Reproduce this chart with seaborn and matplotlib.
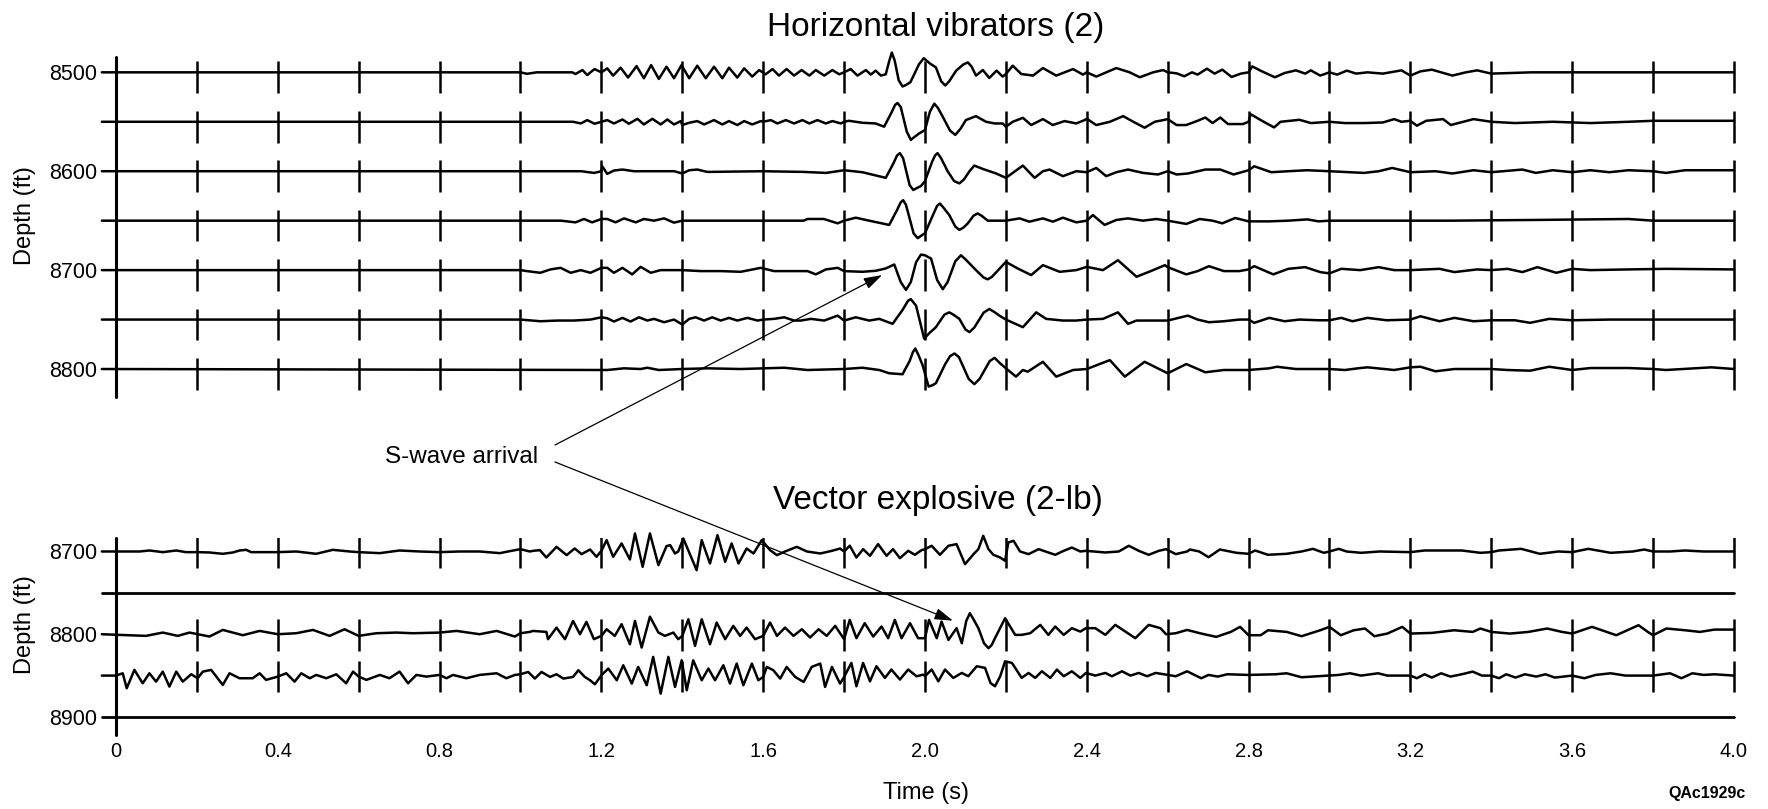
import numpy as np
import pandas as pd
import matplotlib
matplotlib.use("Agg")
import matplotlib.pyplot as plt
import seaborn as sns

# ---------------- data (time s, trace amplitude in ft, + = up) ----------------
hv_depths = [8500, 8550, 8600, 8650, 8700, 8750, 8800]
hv_ylabels = [8500, 8600, 8700, 8800]
vx_depths = [8700, 8800, 8850]
vx_plain = [8750, 8900]
vx_ylabels = [8700, 8800, 8900]
x_ticks = [0, 0.4, 0.8, 1.2, 1.6, 2.0, 2.4, 2.8, 3.2, 3.6, 4.0]
x_ticklabels = ["0", "0.4", "0.8", "1.2", "1.6", "2.0", "2.4", "2.8", "3.2", "3.6", "4.0"]
trace_marks = [0.2, 0.4, 0.6, 0.8, 1.0, 1.2, 1.4, 1.6, 1.8, 2.0,
               2.2, 2.4, 2.6, 2.8, 3.0, 3.2, 3.4, 3.6, 3.8, 4.0]

hv_8500 = [(-0.035,0),(1.0,0),(1.016,-1.5),(1.04,0),(1.128,0),(1.136,-1.7),(1.153,2.3),(1.165,-2.7),
    (1.183,3.3),(1.2,0),(1.2145,4),(1.229,-3.3),(1.2475,4.7),(1.266,-5.3),(1.287,6.3),(1.305,-6),
    (1.323,7.3),(1.342,-6.7),(1.361,5.7),(1.3795,-6),(1.398,7.3),(1.417,-6),(1.437,6.7),(1.458,-6),
    (1.4785,5.7),(1.499,-6),(1.5155,4.7),(1.536,-5.3),(1.553,4),(1.573,-4.3),(1.59,2.3),(1.606,-2),
    (1.623,3.3),(1.639,-3.3),(1.658,3.3),(1.6765,-3.3),(1.695,2.3),(1.714,-3.3),(1.73,2.3),(1.751,-3.3),
    (1.771,2.3),(1.788,-2),(1.8,0),(1.8165,3.3),(1.833,-3.3),(1.854,2.3),(1.866,-2.3),(1.878,1.7),
    (1.891,-3.3),(1.903,-2),(1.912,12),(1.918,20),(1.925,12),(1.935,-8),(1.9445,-14.3),(1.952,-13),
    (1.964,-10),(1.985,8),(1.997,14.3),(2.012,9),(2.027,5),(2.04,-9),(2.05,-13.3),(2.06,-9),
    (2.077,1.7),(2.095,8),(2.106,10),(2.115,6),(2.126,-3.3),(2.143,2.3),(2.159,-5.7),(2.177,1.7),
    (2.192,-4.3),(2.2,-1.7),(2.217,6.7),(2.238,-1.7),(2.267,-3.3),(2.2915,4.3),(2.3245,-3.3),(2.366,3.3),
    (2.3905,-2.3),(2.4,0),(2.4235,-4.3),(2.473,4.3),(2.506,0),(2.531,-5),(2.564,0),(2.589,2.3),(2.6,0),
    (2.622,-1),(2.641,-4),(2.66,0),(2.674,-2.3),(2.697,3.7),(2.716,-1.3),(2.735,2.7),(2.758,-4.7),
    (2.781,-1.3),(2.8,0),(2.809,6),(2.833,1),(2.865,-5),(2.889,-0.7),(2.917,2),(2.94,-1.3),(2.954,2),
    (2.977,-3.3),(3.0,0),(3.019,-2.3),(3.043,1.7),(3.066,-1.3),(3.094,0),(3.132,-1.3),(3.178,2),
    (3.2,-3.3),(3.225,1),(3.253,2.7),(3.304,-3.3),(3.337,0),(3.365,2),(3.4,-1.3),(3.5,0),(4.0,0)]

hv_8550 = [(-0.035,0),(1.13,0),(1.149,-1.7),(1.165,1.7),(1.183,-2),(1.2,0),(1.2145,1.7),(1.231,-1.7),
    (1.252,2.3),(1.268,-2),(1.289,3),(1.305,-2.7),(1.326,3),(1.3465,-2.7),(1.363,2.3),(1.3795,-2.7),
    (1.396,0.7),(1.4,-3.3),(1.417,-1),(1.437,0.7),(1.454,-2.7),(1.4785,1.7),(1.499,-2.7),(1.5155,0.7),
    (1.536,-3.3),(1.553,0.7),(1.573,-2.7),(1.594,0.7),(1.6,0),(1.619,1.7),(1.635,-1.7),(1.656,1.7),
    (1.6765,-1.7),(1.697,1.7),(1.714,-1.7),(1.734,1.7),(1.755,-1.7),(1.771,0.7),(1.792,-1.7),(1.8,0),
    (1.812,1),(1.845,-1),(1.878,-1.7),(1.899,-5),(1.918,10),(1.926,17),(1.932,19),(1.94,15),
    (1.955,-10),(1.965,-18.3),(1.975,-15),(1.986,-11.7),(2.0,-8.3),(2.012,10),(2.023,18.3),(2.032,14),
    (2.044,5),(2.062,-9),(2.075,-13.3),(2.088,-7),(2.101,1.7),(2.126,5.7),(2.151,0),(2.172,-1.7),
    (2.192,-1.7),(2.2,-5),(2.217,0),(2.242,4),(2.2625,-3.3),(2.2915,2.7),(2.316,-3.3),(2.345,0.7),
    (2.374,-1.7),(2.3945,1.7),(2.4,3),(2.4235,-3.3),(2.457,0),(2.49,5.7),(2.515,0),(2.543,-6),(2.568,0),
    (2.589,1.7),(2.6,2.7),(2.622,-3.3),(2.646,-3.3),(2.674,1),(2.693,4.3),(2.711,-1.3),(2.73,4.3),
    (2.749,-2.3),(2.786,-2.3),(2.8,0),(2.805,7.7),(2.833,1),(2.863,-5.7),(2.879,0),(2.926,2),
    (2.954,-1.3),(3.0,0),(3.038,-1.3),(3.085,-1.3),(3.132,-0.7),(3.16,2.7),(3.178,0),(3.2,1),(3.216,-4),
    (3.239,1),(3.281,2.7),(3.3,-3.3),(3.356,2.7),(3.4,0),(3.458,-1.3),(3.552,0),(3.645,-1.3),(3.739,0),
    (3.8,1),(4.0,1)]

hv_8600 = [(-0.035,0),(1.15,0),(1.182,-1.7),(1.2,0),(1.202,5),(1.2145,-2.7),(1.231,0.7),(1.252,1.7),
    (1.2805,0),(1.38,0),(1.4,-2.3),(1.417,1),(1.437,1.7),(1.462,-0.7),(1.6,0),(1.7,-0.7),(1.755,-1.7),
    (1.784,0),(1.8,1),(1.845,-1),(1.903,-6.7),(1.922,8),(1.931,16),(1.938,18.3),(1.946,13),(1.962,-14),
    (1.971,-19),(1.98,-17),(1.99,-15),(2.0,-10),(2.018,10),(2.025,16),(2.031,18.3),(2.04,13),(2.056,0),
    (2.072,-10),(2.085,-12.3),(2.097,-8),(2.11,0),(2.122,5.7),(2.143,2.3),(2.176,-2.3),(2.2,-6.7),
    (2.242,5.7),(2.271,-6.7),(2.2915,0),(2.308,1.7),(2.341,-5),(2.374,0),(2.4,-1),(2.4235,3.3),
    (2.448,-5),(2.473,-1),(2.502,1.7),(2.539,-1.7),(2.576,-3.3),(2.6,0),(2.622,-3.3),(2.65,-2.3),
    (2.693,1.7),(2.73,1.7),(2.763,-3.3),(2.8,1),(2.814,5),(2.856,-1),(2.898,0),(2.945,1),(3.0,0),
    (3.085,-1.7),(3.122,0),(3.155,3.3),(3.2,-1),(3.262,0),(3.304,-2.3),(3.356,1),(3.4,-1),(3.477,1.7),
    (3.51,-1.7),(3.552,1),(3.6,-1),(3.645,1),(3.692,-1),(3.739,1),(3.8,0),(3.832,-1.7),(3.879,1),(4.0,1)]

hv_8650 = [(-0.035,0),(1.1,0),(1.136,-1.7),(1.157,1.7),(1.177,-1.7),(1.2,1.7),(1.2145,1.7),(1.235,-1.7),
    (1.256,2.3),(1.285,-1.7),(1.305,1.7),(1.33,0),(1.355,2.3),(1.3795,-2),(1.4,0),(1.7,0),(1.7095,1.7),
    (1.75,1.7),(1.784,-2.7),(1.8,0),(1.829,3),(1.862,0),(1.9115,-4.3),(1.93,10),(1.94,18.5),(1.946,20.7),
    (1.953,16),(1.972,-13),(1.982,-17.7),(1.994,-14.3),(2.0,-12.7),(2.02,6),(2.03,15),(2.037,17.3),
    (2.046,13),(2.06,5.7),(2.075,-6),(2.085,-9.3),(2.095,-7),(2.106,-2.7),(2.12,5),(2.13,7.3),(2.14,5),
    (2.155,0),(2.2,0),(2.234,2.3),(2.258,-1),(2.2915,2.3),(2.316,-1),(2.341,3),(2.374,-1.7),(2.4,0),
    (2.415,5.7),(2.444,-4.3),(2.473,0.7),(2.502,2.3),(2.539,0),(2.572,1.7),(2.6,0),(2.646,-3.3),
    (2.679,1.7),(2.711,0),(2.735,-2.7),(2.767,2.7),(2.8,-0.7),(2.851,-0.7),(2.898,0),(2.945,1.3),
    (2.973,-0.7),(3.0,0),(3.3,0),(3.5,0.7),(3.739,1.7),(3.8,0),(4.0,0)]

hv_8700 = [(-0.035,0),(1.0,0),(1.016,-1),(1.049,-2.7),(1.074,0.7),(1.099,2.3),(1.124,-2.7),(1.149,0),
    (1.173,-2.7),(1.2,2.3),(1.2145,2.3),(1.231,-2.7),(1.252,2.3),(1.276,-4.3),(1.297,3.3),(1.322,-2.7),
    (1.3465,0),(1.4,0),(1.4455,-1),(1.495,-1),(1.5445,-1.7),(1.594,2.3),(1.627,-1),(1.7095,-1),
    (1.73,-4.3),(1.755,0.7),(1.784,2.3),(1.8,-1),(1.845,-1.7),(1.878,-0.7),(1.903,1.7),(1.924,5.7),
    (1.94,-12),(1.953,-20),(1.965,-12),(1.978,8),(1.99,15.7),(2.0,15),(2.015,11.7),(2.03,-10),
    (2.044,-19.3),(2.056,-12),(2.075,9),(2.089,15),(2.1,11),(2.126,0),(2.145,-7.5),(2.155,-9.3),
    (2.165,-7),(2.2,8.3),(2.229,1.7),(2.2625,-5),(2.2915,5),(2.333,-1.7),(2.374,0),(2.4,3.3),(2.44,0),
    (2.477,10),(2.523,-6.7),(2.56,-0.7),(2.593,5),(2.6,3),(2.646,-4.3),(2.674,-1),(2.702,4),(2.739,-1),
    (2.777,-1),(2.8,0.7),(2.814,4),(2.861,-4.3),(2.898,1.3),(2.94,3),(2.977,-2),(3.0,-3.3),(3.029,1.3),
    (3.076,0),(3.122,3),(3.16,0),(3.2,0),(3.272,1.3),(3.309,-2),(3.365,0.7),(3.4,0),(3.44,1.3),
    (3.477,-2),(3.514,3),(3.561,-2.7),(3.6,1.3),(3.645,0),(3.739,0.7),(3.832,1.3),(4.0,0.7)]

hv_8750 = [(-0.035,0),(1.0,0),(1.049,-1.7),(1.091,-1),(1.132,-1),(1.173,0),(1.2,2.3),(1.2145,1.3),
    (1.231,-2),(1.252,1.7),(1.272,-2),(1.293,2.3),(1.3135,-1),(1.33,0.7),(1.355,-2.7),(1.3795,0),
    (1.4,-5),(1.417,0.7),(1.433,2.3),(1.454,-1),(1.474,2.3),(1.495,-1),(1.5155,1.7),(1.536,-1),
    (1.561,1.7),(1.586,-1),(1.6,0),(1.627,0.7),(1.652,2.3),(1.6765,-1),(1.693,-1),(1.718,0.7),
    (1.751,-1),(1.784,4),(1.8,-1),(1.829,2.3),(1.862,-1),(1.887,0.7),(1.92,-4.3),(1.945,10),
    (1.958,19),(1.965,20.7),(1.978,14),(1.998,-19.3),(2.01,-14),(2.027,-7.7),(2.048,5),(2.06,7.3),
    (2.07,5),(2.085,0.7),(2.1,-10),(2.11,-12.7),(2.122,-8),(2.145,7),(2.159,10.7),(2.17,8),(2.184,4),
    (2.2,0),(2.242,-7.7),(2.275,7.3),(2.2995,0.7),(2.341,-1),(2.374,-1),(2.4,0),(2.44,0.7),(2.477,7.3),
    (2.502,-4.3),(2.523,-1),(2.572,-1),(2.6,-1),(2.65,4),(2.674,0),(2.702,-2.7),(2.739,-1.7),(2.777,0),
    (2.8,0),(2.814,-3.3),(2.851,1.7),(2.889,-1.7),(2.926,0),(2.973,-0.7),(3.0,-0.7),(3.029,1.7),
    (3.057,-1.7),(3.094,1.7),(3.141,-0.7),(3.2,0),(3.225,3.3),(3.272,-1.7),(3.309,1.7),(3.356,-1.7),
    (3.4,-0.7),(3.458,-0.7),(3.496,-3.3),(3.543,0.7),(3.6,-0.7),(3.692,0),(4.0,0)]

hv_8800 = [(-0.035,0),(1.2145,-1),(1.256,0.7),(1.297,0),(1.3135,1.3),(1.342,-1),(1.4,0),(1.462,0.7),
    (1.5445,0),(1.652,1.3),(1.7095,-1),(1.8,0),(1.845,1.3),(1.887,-1),(1.9115,-4.3),(1.9445,-5.3),
    (1.962,8),(1.97,17),(1.976,20.7),(1.984,14),(1.994,4),(2.009,-17.7),(2.018,-16.5),(2.027,-14.3),
    (2.05,5),(2.062,13),(2.073,15.7),(2.084,12),(2.108,-10),(2.122,-15.3),(2.135,-10),(2.16,8),
    (2.172,11.3),(2.185,6),(2.2,0.7),(2.225,-7.7),(2.242,-1),(2.254,-2.7),(2.2915,7.3),(2.3245,-7.7),
    (2.366,-1),(2.4,0),(2.457,9),(2.494,-7.7),(2.543,7.3),(2.6,-4.3),(2.646,5),(2.693,-3.3),(2.739,-1),
    (2.8,-1),(2.851,0.7),(2.87,2.3),(2.917,0),(3.0,0),(3.038,-1),(3.076,1),(3.094,1.7),(3.16,-1),
    (3.2,1.7),(3.225,2.3),(3.262,-2.3),(3.309,0),(3.4,0),(3.44,-1),(3.496,-1.7),(3.543,2.3),(3.6,-1),
    (3.645,1),(3.739,1),(3.8,0),(3.832,-1),(3.944,1.7),(4.0,0)]

vx_8700 = [(-0.035,0),(0.0166,0),(0.058,0),(0.083,1.2),(0.1156,-0.8),(0.149,1.2),(0.173,-0.8),
    (0.202,-0.8),(0.231,-1.2),(0.264,-2.8),(0.289,-1.2),(0.3053,1.2),(0.322,2),(0.334,-0.8),(0.4,-0.8),
    (0.4455,0),(0.495,-2.8),(0.536,2),(0.5775,0),(0.6,-0.8),(0.652,-2),(0.701,1.2),(0.751,0),(0.8,-0.8),
    (0.85,0),(0.899,0),(0.949,-2),(0.982,1.2),(1.0,2.8),(1.023,0),(1.031,0.8),(1.048,1.6),(1.064,-7.3),
    (1.089,5.6),(1.114,-4.4),(1.134,3.6),(1.151,-3.2),(1.172,2.4),(1.188,-6.4),(1.2,0.8),(1.213,13.7),
    (1.229,-6.4),(1.25,9.7),(1.2705,-9.7),(1.283,21.8),(1.302,-18.5),(1.32,21.8),(1.341,-16.5),
    (1.361,6.5),(1.37,7.7),(1.382,-2.4),(1.39,0),(1.4025,15.7),(1.4355,-22.6),(1.448,13.7),
    (1.4685,-14.5),(1.487,19.7),(1.506,-12.5),(1.522,9.7),(1.539,-14.5),(1.559,3.6),(1.576,-2.4),
    (1.5965,13.7),(1.617,1.6),(1.634,-4.4),(1.654,0),(1.683,5.6),(1.708,0),(1.741,-2.4),(1.77,0.8),
    (1.79,3.6),(1.8,0),(1.814,7),(1.8305,-7.3),(1.847,2.8),(1.864,-5.2),(1.884,8.9),(1.905,-5.2),
    (1.921,2.8),(1.938,-8.1),(1.9585,0.8),(1.975,-4),(1.9915,1.6),(2.0,2.8),(2.0165,6.9),(2.037,-4),
    (2.058,6.9),(2.078,8.9),(2.099,-15.3),(2.12,-3.2),(2.132,2.8),(2.144,18.9),(2.157,2.8),(2.169,-4),
    (2.186,-7.3),(2.198,-11.3),(2.206,10.9),(2.219,12.9),(2.235,0),(2.256,-3.2),(2.281,2.8),
    (2.305,-1.2),(2.322,-4),(2.343,0.8),(2.363,4.8),(2.384,0),(2.398,0.8),(2.446,-1.2),(2.479,0),
    (2.504,6.9),(2.5285,0.8),(2.553,-4),(2.578,0.8),(2.596,2.8),(2.62,-3.2),(2.648,0),(2.655,2.4),
    (2.678,0),(2.701,-6.9),(2.729,2.4),(2.77,-1.6),(2.8,-2.8),(2.816,1.2),(2.848,-4),(2.894,-2.8),
    (2.931,0),(2.959,3.2),(2.986,-1.6),(3.0,0),(3.023,3.2),(3.042,0),(3.078,-1.6),(3.124,0),(3.2,-0.8),
    (3.235,1.2),(3.327,1.2),(3.373,-1.6),(3.4,-0.8),(3.419,1.2),(3.474,3.2),(3.52,-2.8),(3.566,0),
    (3.6,-0.8),(3.64,3.2),(3.695,-1.6),(3.75,0),(3.778,2.4),(3.8,0),(3.842,0),(3.879,1.2),(3.925,0),
    (4.0,0)]

vx_8800 = [(-0.035,0),(0.033,-1.2),(0.074,-2),(0.1156,2),(0.153,-2),(0.1817,2),(0.202,0),(0.231,-2.8),
    (0.264,5.2),(0.3136,-1.2),(0.355,4),(0.4,0),(0.4455,1.2),(0.487,5.2),(0.528,-2),(0.565,6),(0.6,-2),
    (0.6436,1.2),(0.693,2),(0.734,1.2),(0.8,2),(0.842,4),(0.899,0),(0.941,4),(0.986,-2.8),(1.0,1.2),
    (1.023,2.8),(1.031,4),(1.064,2.8),(1.068,-6),(1.089,8),(1.11,-6),(1.13,16.1),(1.147,0),(1.163,14.9),
    (1.1815,-6),(1.2,-2),(1.213,6),(1.233,-2),(1.25,12.1),(1.2705,-12.1),(1.283,16.1),(1.2995,-16.1),
    (1.32,21.2),(1.341,2),(1.357,-2),(1.378,2),(1.39,-6),(1.4,-2),(1.415,18.1),(1.4315,-14.1),
    (1.448,18.1),(1.4685,-12.1),(1.485,14.1),(1.506,-6),(1.526,10.1),(1.543,-2),(1.559,8),(1.58,-6),
    (1.6,-2),(1.617,14.1),(1.634,-2),(1.654,8),(1.675,-2),(1.6955,6),(1.716,-4),(1.737,6),(1.757,-2),
    (1.778,10.1),(1.8,-6),(1.814,17.3),(1.8305,-4.8),(1.851,13.3),(1.872,-2.8),(1.8925,9.3),
    (1.909,-4.8),(1.9255,17.3),(1.942,-4.8),(1.963,13.3),(1.983,-4.8),(2.0,-4.8),(2.01,17.3),
    (2.029,-4.8),(2.041,15.3),(2.058,-6.9),(2.078,7.3),(2.091,-10.9),(2.102,16),(2.111,25.4),
    (2.12,18),(2.132,7.3),(2.146,-11),(2.157,-16.9),(2.165,-13),(2.173,-4.8),(2.198,19.3),(2.223,-0.8),
    (2.239,-0.8),(2.26,1.2),(2.285,11.3),(2.305,-0.8),(2.322,9.3),(2.343,-0.8),(2.363,7.3),(2.384,3.2),
    (2.398,7.3),(2.421,7.3),(2.446,-0.8),(2.4705,11.3),(2.4955,3.2),(2.52,-4.8),(2.553,11.3),
    (2.582,7.3),(2.596,0),(2.62,1.2),(2.648,5.2),(2.683,0.8),(2.72,-3.2),(2.756,2.8),(2.779,8.9),
    (2.8,-1.2),(2.83,-1.2),(2.848,4.8),(2.894,2.8),(2.931,-2.4),(2.977,4.8),(3.0,8.9),(3.028,-1.2),
    (3.06,4.8),(3.088,6.9),(3.111,-2.4),(3.143,0.8),(3.18,8.9),(3.2,0.8),(3.253,1.6),(3.308,4.8),
    (3.354,2.8),(3.373,6.9),(3.4,2.8),(3.446,0.8),(3.492,2.8),(3.538,6.9),(3.575,2.8),(3.6,0.8),
    (3.649,8.9),(3.709,-1.2),(3.764,10.9),(3.787,2.8),(3.8,-1.2),(3.833,6.9),(3.879,4.8),(3.916,2.8),
    (3.952,5.6),(4.0,5.6)]

vx_8850 = [(-0.035,0),(0.0,0),(0.0166,2.8),(0.0265,-15.3),(0.0455,6.9),(0.066,-9.3),(0.0826,2.8),
    (0.099,-7.3),(0.1156,4.8),(0.132,-13.3),(0.149,4.8),(0.165,-7.3),(0.186,1.6),(0.202,-3.2),
    (0.2145,4.8),(0.2352,6.9),(0.264,-11.3),(0.2806,2.8),(0.3053,-3.2),(0.338,-3.2),(0.355,2.8),
    (0.371,-5.2),(0.4,-1.2),(0.421,2.8),(0.4415,-7.3),(0.458,2.8),(0.479,-3.2),(0.495,0.8),(0.52,-3.2),
    (0.5445,1.6),(0.569,-9.3),(0.586,4.8),(0.6,-1.2),(0.619,-5.2),(0.652,0.8),(0.676,-3.2),(0.701,4.8),
    (0.722,-9.3),(0.7425,0.8),(0.767,-1.2),(0.8,0.8),(0.817,-3.2),(0.833,0.8),(0.866,-3.2),(0.899,0.8),
    (0.941,2.8),(0.965,-3.2),(0.986,0.8),(1.0,1.6),(1.019,4.4),(1.0355,-3.6),(1.052,4.4),(1.073,-1.6),
    (1.089,1.6),(1.106,-3.6),(1.13,-1.6),(1.143,6.5),(1.159,-1.6),(1.172,-5.6),(1.184,-10.5),(1.2,0.4),
    (1.217,8.5),(1.238,-5.6),(1.254,12.5),(1.275,-9.7),(1.291,10.5),(1.312,-11.7),(1.328,22.6),
    (1.3465,-21.8),(1.3655,22.6),(1.382,-13.7),(1.3985,18.5),(1.411,-17.7),(1.427,18.5),(1.448,-5.6),
    (1.4645,8.5),(1.481,-5.6),(1.5015,12.5),(1.518,-9.7),(1.5345,14.5),(1.551,-11.7),(1.572,14.5),
    (1.588,-5.6),(1.6,-1.6),(1.609,10.5),(1.625,6.5),(1.642,-3.6),(1.658,10.5),(1.679,-1.6),(1.7,-7.7),
    (1.72,10.5),(1.741,14.5),(1.753,-13.7),(1.77,10.5),(1.79,-9.7),(1.8,-1.6),(1.818,15.3),
    (1.8305,-12.9),(1.847,15.3),(1.864,-6.9),(1.88,11.3),(1.901,-2.8),(1.917,7.3),(1.938,-4.8),
    (1.9585,7.3),(1.979,-0.8),(1.996,1.2),(2.0,-0.8),(2.0165,7.3),(2.033,-6.9),(2.0495,7.3),(2.07,-2.8),
    (2.091,3.2),(2.107,-0.8),(2.128,11.3),(2.1485,9.3),(2.162,-9),(2.173,-12.9),(2.186,-0.8),
    (2.198,17.3),(2.215,15.3),(2.239,-2.8),(2.256,3.2),(2.2725,-2.8),(2.289,5.2),(2.31,-2.8),
    (2.326,7.3),(2.343,-0.8),(2.363,5.2),(2.384,-2.8),(2.398,3.2),(2.421,0),(2.446,3.2),(2.462,-0.8),
    (2.487,5.2),(2.508,0),(2.5285,3.2),(2.549,-0.8),(2.57,3.2),(2.596,1.2),(2.62,-0.8),(2.648,5.2),
    (2.683,-3.2),(2.701,0.8),(2.724,-1.2),(2.747,1.6),(2.8,0.8),(2.867,1.6),(2.894,2.8),(2.931,-2),
    (3.0,0),(3.023,0.8),(3.051,2.8),(3.078,0),(3.12,2.8),(3.143,0),(3.2,0),(3.216,-3.2),(3.235,1.6),
    (3.253,-2.4),(3.276,2.8),(3.299,-1.2),(3.327,1.6),(3.354,4.8),(3.377,0),(3.4,0),(3.419,-3.2),
    (3.437,1.6),(3.46,-2.4),(3.483,1.6),(3.511,-1.2),(3.534,1.6),(3.557,-2.4),(3.6,0),(3.63,-3.2),
    (3.658,0.8),(3.695,2.8),(3.732,0),(3.8,0),(3.842,2.8),(3.87,-3.2),(3.897,2.8),(3.925,0.8),
    (3.952,1.6),(4.0,0)]

hv_traces = [hv_8500, hv_8550, hv_8600, hv_8650, hv_8700, hv_8750, hv_8800]
vx_traces = [vx_8700, vx_8800, vx_8850]

# ---------------- style ----------------
sns.set_style("white")
plt.rcParams["font.family"] = ["Liberation Sans", "DejaVu Sans"]
plt.rcParams.update({"text.color": "black", "axes.labelcolor": "black",
                     "xtick.color": "black", "ytick.color": "black"})
LW = 1.8
INK = "black"

W, H = 1768, 809
fig = plt.figure(figsize=(W / 100, H / 100), dpi=100)
fig.patch.set_facecolor("white")

X_LEFT_PX = 97.8
X_WIDTH_PX = 1656.4
XLIM = (-0.045, 4.05)

ax1 = fig.add_axes([X_LEFT_PX / W, 1 - 397 / H, X_WIDTH_PX / W, 340 / H])
ax2 = fig.add_axes([X_LEFT_PX / W, 1 - 735 / H, X_WIDTH_PX / W, 197 / H])
YLIM1 = (8828.3, 8484.5)
YLIM2 = (8921.8, 8683.7)


def draw_traces(ax, depths, traces, up, down):
    for depth, pts in zip(depths, traces):
        df = pd.DataFrame(pts, columns=["t", "amp"])
        df["y"] = depth - df["amp"]
        sns.lineplot(data=df, x="t", y="y", ax=ax, color=INK, linewidth=LW,
                     sort=False, estimator=None, legend=False)
        ax.vlines(trace_marks, depth - up, depth + down, color=INK, linewidth=LW)
    for ln in ax.lines:
        ln.set_clip_on(False)
        ln.set_solid_joinstyle("round")


draw_traces(ax1, hv_depths, hv_traces, 11, 21)
draw_traces(ax2, vx_depths, vx_traces, 18, 20)
for d in vx_plain:
    ax2.plot([-0.035, 4.0], [d, d], color=INK, linewidth=LW + 0.2, clip_on=False)

for ax, ylim, labels in [(ax1, YLIM1, hv_ylabels), (ax2, YLIM2, vx_ylabels)]:
    ax.plot([0, 0], ylim, color=INK, linewidth=2.2, clip_on=False)
    ax.set_xlim(*XLIM)
    ax.set_ylim(*ylim)
    ax.set_yticks(labels)
    ax.set_yticklabels([str(v) for v in labels], fontsize=15.5, color="black")
    ax.tick_params(axis="y", length=0, pad=0.3)
    for s in ax.spines.values():
        s.set_visible(False)
    ax.set_facecolor("none")
    ax.set_ylabel("Depth (ft)", fontsize=17, color="black")

ax1.set_xticks([])
ax1.set_xlabel("")
ax1.yaxis.set_label_coords(-0.0373, 0.535)
ax2.yaxis.set_label_coords(-0.0373, 0.563)

ax2.set_xticks(x_ticks)
ax2.set_xticklabels(x_ticklabels, fontsize=14.5, color="black")
ax2.tick_params(axis="x", length=0, pad=5)
ax2.set_xlabel("Time (s)", fontsize=17, labelpad=15, color="black")

# titles
fig.text(936 / W, 1 - 36 / H, "Horizontal vibrators (2)", ha="center", va="baseline",
         fontsize=24, color="black")
fig.text(937.5 / W, 1 - 509 / H, "Vector explosive (2-lb)", ha="center", va="baseline",
         fontsize=24, color="black")

# S-wave annotation
fig.text(385 / W, 1 - 463 / H, "S-wave arrival", ha="left", va="baseline", fontsize=17.5,
         color="black")
arrow_kw = dict(arrowstyle="-|>,head_length=0.8,head_width=0.25", color=INK, lw=0.9,
                shrinkA=0, shrinkB=0, mutation_scale=14)
ax1.annotate("", xy=(1.894, 8705), xycoords="data",
             xytext=(555 / W, 1 - 445 / H), textcoords="figure fraction",
             arrowprops=arrow_kw, annotation_clip=False)
ax2.annotate("", xy=(2.069, 8783.6), xycoords="data",
             xytext=(555 / W, 1 - 462 / H), textcoords="figure fraction",
             arrowprops=arrow_kw, annotation_clip=False)

fig.text(1746 / W, 1 - 798 / H, "QAc1929c", ha="right", va="baseline", fontsize=11.5,
         fontweight="bold", color="black")

fig.savefig("out.png", dpi=100, facecolor="white")
